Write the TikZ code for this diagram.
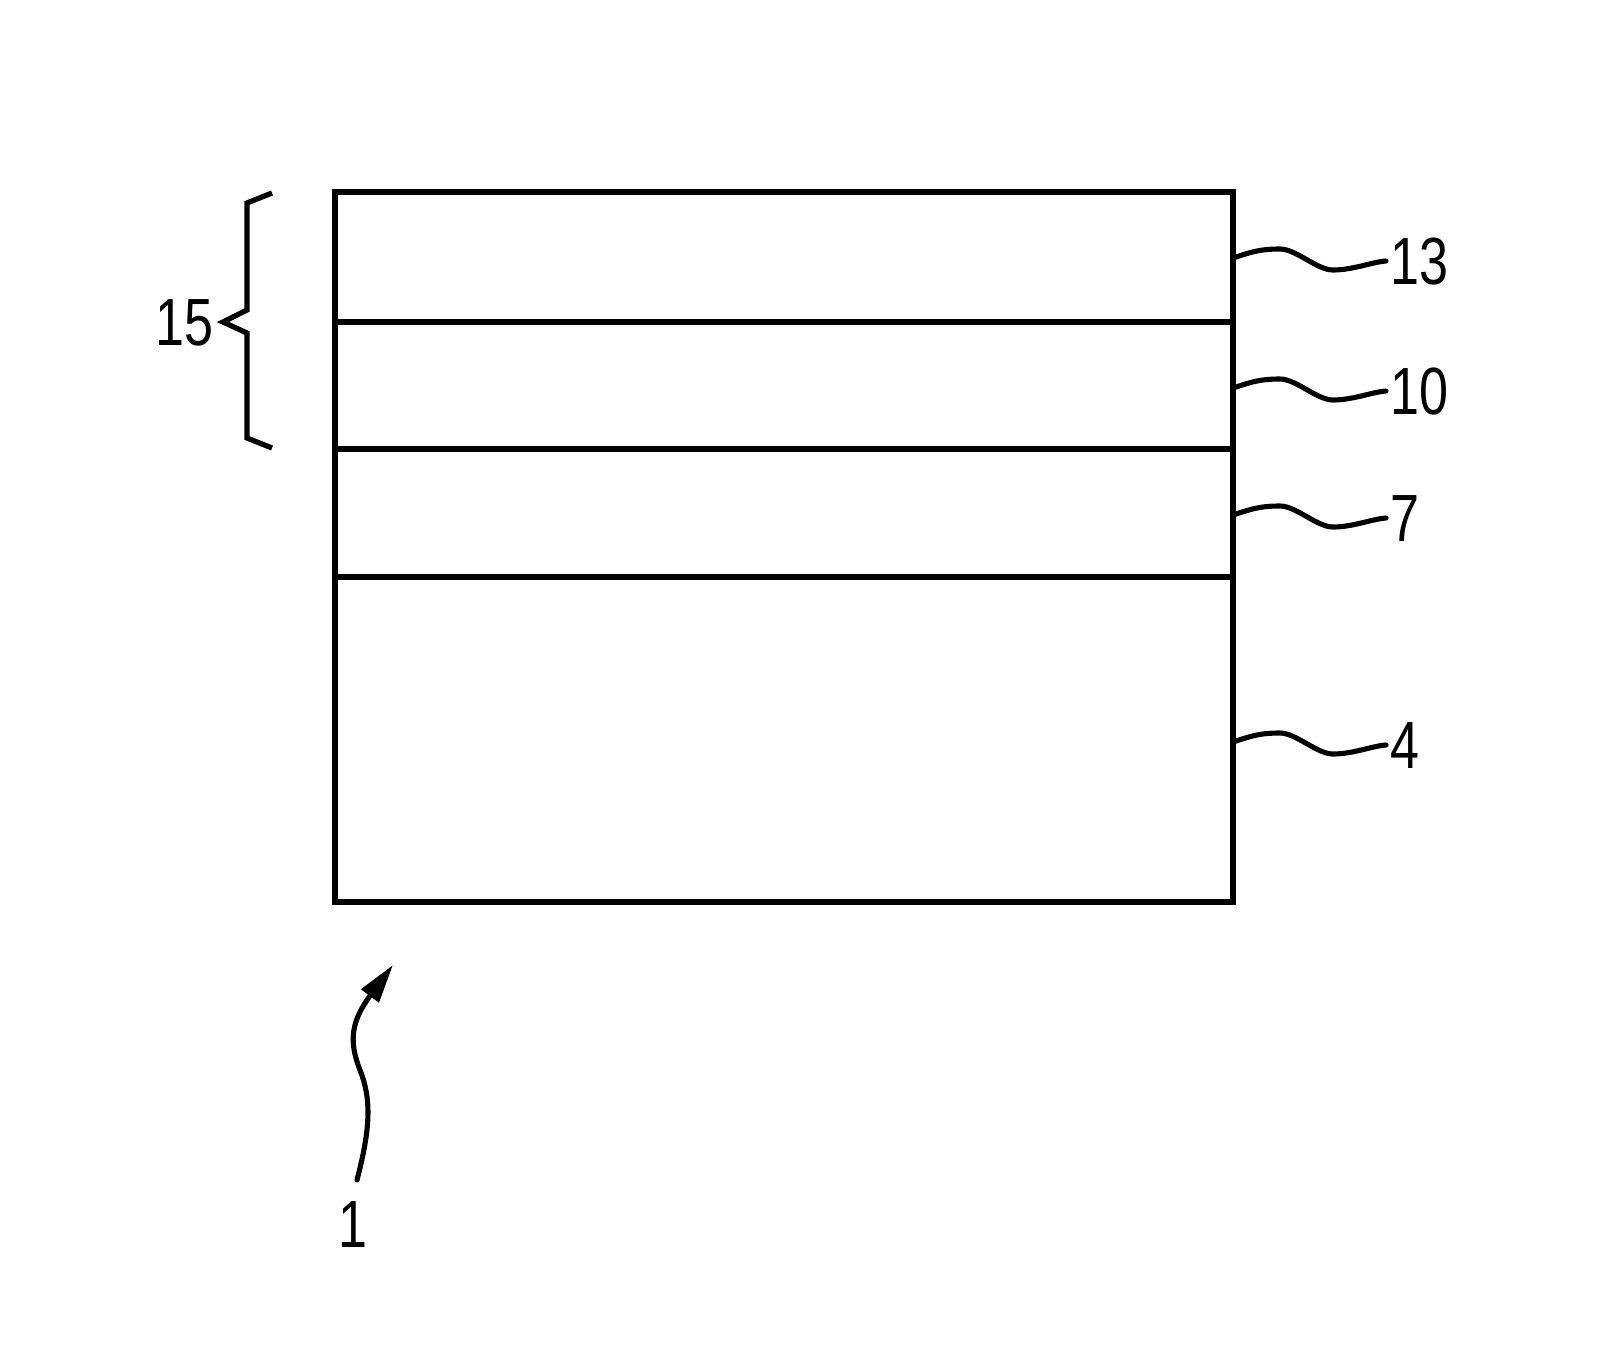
\documentclass[tikz,border=0pt]{standalone}
\usepackage{fontspec}
\usepackage{tikz}
\usetikzlibrary{arrows.meta, calc}
\newfontfamily\reffont[FakeStretch=0.78]{Liberation Sans}
\newcommand{\Leader}[2]{%
  \draw[leader] (#1) .. controls ($(#1)+(18,-6)$) and ($(#1)+(27,-9)$) .. ($(#1)+(47,-9)$)
    .. controls ($(#1)+(63,-9)$) and ($(#1)+(84,12)$) .. ($(#1)+(100,12)$)
    .. controls ($(#1)+(120,12)$) and ($(#2.west)+(-18,0)$) .. ($(#2.west)+(-4,-1)$);
}
\tikzset{
    layer line/.style={line width=3.3pt},
    leader/.style={line width=2.9pt, line cap=round},
    ref label/.style={inner sep=0pt, font=\reffont\fontsize{38}{40}\selectfont},
    brace line/.style={line width=3pt},
}

\begin{document}
\begin{tikzpicture}[x=0.02cm, y=-0.02cm]
    \useasboundingbox (0,0) rectangle (1612,1370);

    % layer stack
    \draw[layer line] (335,192) rectangle (1233,902);
    \foreach \y in {322,449,577}
      \draw[layer line] (335,\y) -- (1233,\y);

    % reference signs on the right
    \foreach \n/\y in {13/258, 10/388, 7/515, 4/742} {
      \coordinate (e\n) at (1233,\y);
      \node[ref label, anchor=west] (l\n) at (1390,\y+4) {\n};
      \Leader{e\n}{l\n}
    }

    % brace 15
    \coordinate (b15) at (223,322);
    \draw[brace line] (272,193) -- (247,203) -- (247,310) -- (b15) -- (247,333) -- (247,438) -- (272,448);
    \node[ref label, anchor=east] (l15) at ($(b15)+(-9,1)$) {15};

    % arrow 1
    \node[ref label] (l1) at (353,1225) {1};
    \coordinate (a1) at (357,1180);
    \coordinate (t1) at (393,965);
    \draw[leader, -{Triangle[length=22pt,width=12pt]}] (a1) .. controls (370,1130) and (372,1100) .. (360,1070)
      .. controls (348,1040) and (352,1020) .. (t1);

  \end{tikzpicture}
\end{document}
